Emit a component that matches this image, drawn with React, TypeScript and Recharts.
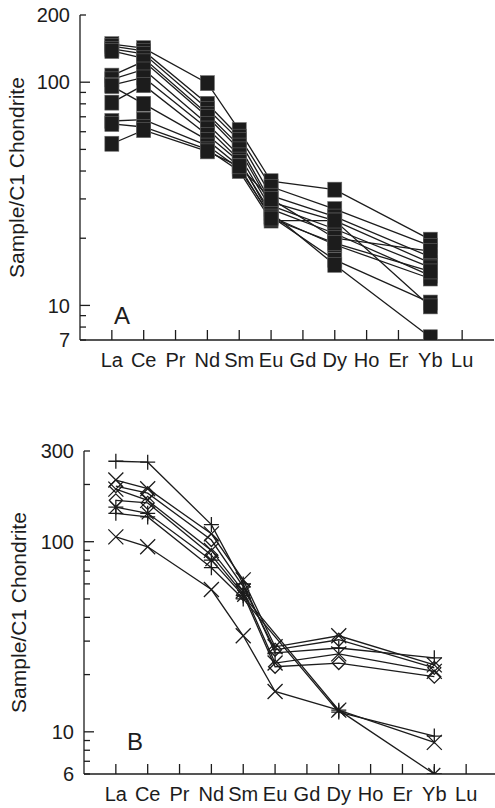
import { LineChart, Line, XAxis, YAxis } from "recharts"

const ink = "#1c1c1c"
const font = "'Liberation Sans', Arial, sans-serif"

const ELEMENTS = ["La", "Ce", "Pr", "Nd", "Sm", "Eu", "Gd", "Dy", "Ho", "Er", "Yb", "Lu"]
const PLOTTED = ["La", "Ce", "Nd", "Sm", "Eu", "Dy", "Yb"]

// panel A - chondrite normalised values (La, Ce, Nd, Sm, Eu, Dy, Yb)
const seriesA: number[][] = [
  [148, 142, 99, 61, 36, 33, 19.7],
  [145, 138, 80, 57, 34, 27, 18.5],
  [141, 134, 76, 55, 31, 25, 16.5],
  [138, 128, 72, 52, 29, 24, 15.5],
  [107, 124, 70, 50, 28, 22, 14.8],
  [103, 114, 65, 47, 27, 21, 13.6],
  [97, 105, 62, 45, 25, 16, 10.3],
  [81, 97, 58, 44, 26, 15.2, 7.2],
  [96, 80, 55, 42, 30, 20, 17.5],
  [67, 68, 52, 41, 25, 18.7, 13.2],
  [65, 63, 50, 40, 24, 24, 9.9],
  [53, 61, 49, 42, 24.5, 19, 14.2],
]
const ticksA = [7, 8, 9, 10, 20, 30, 40, 50, 60, 70, 80, 90, 100, 200]
const labelsA = [7, 10, 100, 200]

// panel B - null = element not analysed
const seriesB: (number | null)[][] = [
  [265, 262, 123, 60, 26, 27.6, 24.5],
  [211, 190, 110, 63, 28, 32, 22.5],
  [196, 180, 102, 58, 27, 30.5, 21.7],
  [189, 165, 90, 55, 23, 25.7, 20.8],
  [165, 160, 85, 53, 22, 23, 19.5],
  [152, 141, 80, 52, null, 13, 6],
  [141, 135, 73, 50, null, 12.7, 9.5],
  [106, 94, 56, 32, 16.3, 13, 8.8],
]
const markersB = ["plus", "cross", "diamond", "cross", "diamond", "star", "plus", "cross"]
const ticksB = [6, 7, 8, 9, 10, 20, 30, 40, 50, 60, 70, 80, 90, 100, 200, 300]
const labelsB = [6, 10, 100, 300]

const MAJOR = [10, 100]
const xTicks = ELEMENTS.map((_, i) => i + 1)

function toPoints(vals: (number | null)[]) {
  return PLOTTED.map((el, i) => ({ x: ELEMENTS.indexOf(el) + 1, v: vals[i] })).filter((p) => p.v != null)
}

function marker(kind: string) {
  return (props: any) => {
    const { cx, cy, index } = props
    if (cx == null || cy == null) return <g key={index} />
    const s = 7.5
    const st = { stroke: ink, strokeWidth: 1.3, fill: "none" }
    if (kind === "square")
      return <rect key={index} x={cx - 7} y={cy - 7.5} width={14} height={15} fill={ink} stroke="#666" strokeWidth={0.6} />
    if (kind === "plus")
      return <path key={index} d={`M${cx - s},${cy}H${cx + s}M${cx},${cy - s}V${cy + s}`} {...st} />
    if (kind === "cross")
      return (
        <path key={index} d={`M${cx - s},${cy - s}L${cx + s},${cy + s}M${cx - s},${cy + s}L${cx + s},${cy - s}`} {...st} />
      )
    if (kind === "diamond")
      return <path key={index} d={`M${cx},${cy - 6.5}L${cx + 6.5},${cy}L${cx},${cy + 6.5}L${cx - 6.5},${cy}Z`} {...st} />
    return (
      <path
        key={index}
        d={`M${cx - s},${cy}H${cx + s}M${cx},${cy - s}V${cy + s}M${cx - 6},${cy - 6}L${cx + 6},${cy + 6}M${cx - 6},${cy + 6}L${cx + 6},${cy - 6}`}
        {...st}
      />
    )
  }
}

function Panel({ series, markers, domain, ticks, labels, letter, left, top, bottom, right, height, letterPos, titleX }: any) {
  const W = 500
  const LeftTick = ({ x, y, payload }: any) => {
    const len = MAJOR.includes(payload.value) ? 10 : 6
    return (
      <g>
        <line x1={x} x2={x + len} y1={y} y2={y} stroke={ink} strokeWidth={1.3} />
        {labels.includes(payload.value) && (
          <text x={x - 10} y={y} dy="0.36em" textAnchor="end" fontSize={20} fontFamily={font} fill={ink}>
            {payload.value}
          </text>
        )}
      </g>
    )
  }
  const RightTick = ({ x, y, payload }: any) => {
    const len = MAJOR.includes(payload.value) ? 10 : 6
    return <line x1={x} x2={x - len} y1={y} y2={y} stroke={ink} strokeWidth={1.3} />
  }
  const BottomTick = ({ x, y, payload }: any) => (
    <g>
      <line x1={x} x2={x} y1={y} y2={y - 10} stroke={ink} strokeWidth={1.3} />
      <text x={x} y={y + 27} textAnchor="middle" fontSize={20} fontFamily={font} fill={ink}>
        {ELEMENTS[payload.value - 1]}
      </text>
    </g>
  )
  const TopTick = ({ x, y }: any) => <line x1={x} x2={x} y1={y} y2={y + 10} stroke={ink} strokeWidth={1.3} />

  return (
    <div style={{ position: "relative", width: W, height }}>
      <LineChart width={W} height={height} margin={{ top, right: W - right, left: 0, bottom: 0 }}>
        <XAxis
          dataKey="x"
          type="number"
          domain={[0, 13]}
          ticks={xTicks}
          height={height - bottom}
          tickSize={0}
          tickMargin={0}
          tick={<BottomTick />}
          axisLine={{ stroke: ink, strokeWidth: 1.3 }}
          tickLine={false}
          allowDataOverflow
          interval={0}
        />
        <XAxis
          xAxisId="t"
          dataKey="x"
          type="number"
          orientation="top"
          domain={[0, 13]}
          ticks={xTicks}
          height={0}
          tickSize={0}
          tickMargin={0}
          tick={<TopTick />}
          axisLine={{ stroke: ink, strokeWidth: 1.3 }}
          tickLine={false}
          allowDataOverflow
          interval={0}
        />
        <YAxis
          dataKey="v"
          type="number"
          scale="log"
          domain={domain}
          ticks={ticks}
          width={left}
          tickSize={0}
          tickMargin={0}
          tick={<LeftTick />}
          axisLine={{ stroke: ink, strokeWidth: 1.3 }}
          tickLine={false}
          allowDataOverflow
          interval={0}
        />
        <YAxis
          yAxisId="r"
          orientation="right"
          type="number"
          scale="log"
          domain={domain}
          ticks={ticks}
          width={0}
          tickSize={0}
          tickMargin={0}
          tick={<RightTick />}
          axisLine={{ stroke: ink, strokeWidth: 1.3 }}
          tickLine={false}
          allowDataOverflow
          interval={0}
        />
        {series.map((vals: (number | null)[], i: number) => (
          <Line
            key={i}
            data={toPoints(vals)}
            dataKey="v"
            stroke={ink}
            strokeWidth={1.3}
            dot={marker(markers[i])}
            isAnimationActive={false}
            connectNulls
          />
        ))}
      </LineChart>
      <svg width={W} height={height} style={{ position: "absolute", left: 0, top: 0, pointerEvents: "none" }}>
        <text
          transform={`translate(${titleX},${(top + bottom) / 2}) rotate(-90)`}
          textAnchor="middle"
          fontSize={21}
          fontFamily={font}
          fill={ink}
        >
          Sample/C1 Chondrite
        </text>
        <text x={letterPos[0]} y={letterPos[1]} fontSize={24} fontFamily={font} fill={ink}>
          {letter}
        </text>
      </svg>
    </div>
  )
}

export default function App() {
  return (
    <div style={{ position: "absolute", left: 0, top: 0, width: 495, height: 808, overflow: "hidden", background: "#fff" }}>
      <div style={{ position: "absolute", left: 0, top: 0 }}>
        <Panel
          series={seriesA}
          markers={seriesA.map(() => "square")}
          domain={[7, 200]}
          ticks={ticksA}
          labels={labelsA}
          letter="A"
          left={80}
          top={15}
          bottom={340}
          right={494}
          height={380}
          letterPos={[114, 324]}
          titleX={24}
        />
      </div>
      <div style={{ position: "absolute", left: 0, top: 400 }}>
        <Panel
          series={seriesB}
          markers={markersB}
          domain={[6, 300]}
          ticks={ticksB}
          labels={labelsB}
          letter="B"
          left={84}
          top={51}
          bottom={374}
          right={498}
          height={408}
          letterPos={[127, 350]}
          titleX={26}
        />
      </div>
    </div>
  )
}
